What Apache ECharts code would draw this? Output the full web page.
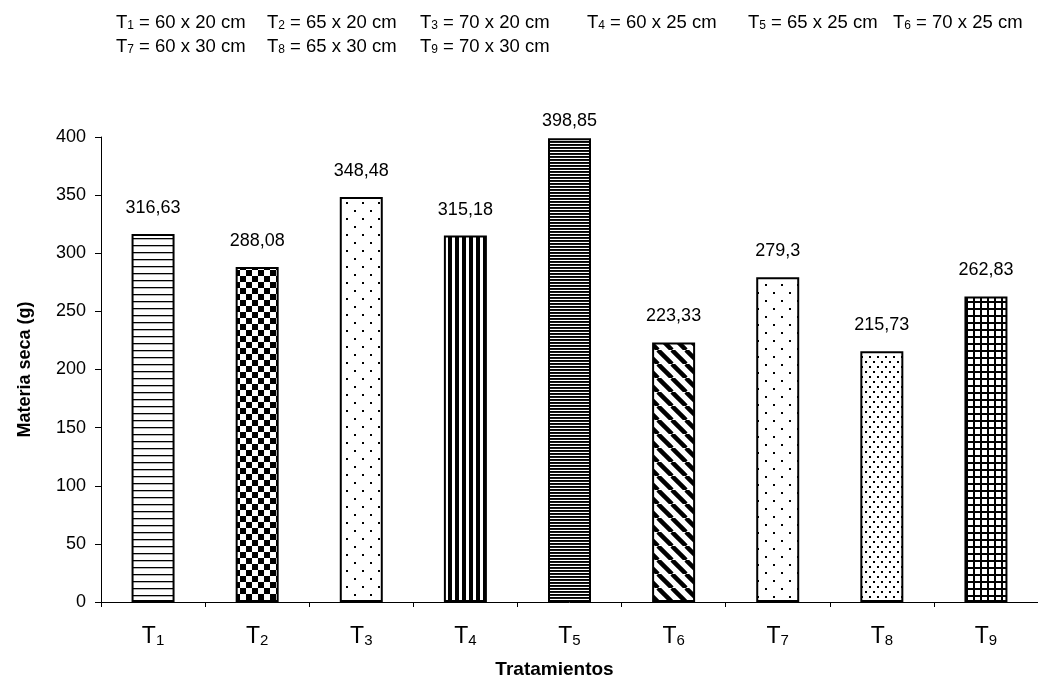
<!DOCTYPE html>
<html>
<head>
<meta charset="utf-8">
<script src="https://cdn.jsdelivr.net/npm/echarts@6/dist/echarts.min.js"></script>
<style>
  html, body { margin: 0; padding: 0; background: #fff; }
  #chart { width: 1038px; height: 681px; }
</style>
</head>
<body>
<div id="chart"></div>
<script>
// datos
const categories = ['1', '2', '3', '4', '5', '6', '7', '8', '9']
const values = [316.63, 288.08, 348.48, 315.18, 398.85, 223.33, 279.3, 215.73, 262.83]
const spacings = [
  '60 x 20 cm', '65 x 20 cm', '70 x 20 cm',
  '60 x 25 cm', '65 x 25 cm', '70 x 25 cm',
  '60 x 30 cm', '65 x 30 cm', '70 x 30 cm'
]
const yTicks = { min: 0, max: 400, interval: 50 }

const FONT = '"Liberation Sans", Arial, sans-serif'

// tramas en blanco y negro (una por tratamiento)
function tile(w, h, draw) {
  const c = document.createElement('canvas')
  c.width = w
  c.height = h
  const ctx = c.getContext('2d')
  ctx.fillStyle = '#fff'
  ctx.fillRect(0, 0, w, h)
  ctx.fillStyle = '#000'
  ctx.strokeStyle = '#000'
  draw(ctx, w, h)
  return { image: c, repeat: 'repeat' }
}

const patterns = [
  // T1 lineas horizontales
  tile(8, 7, (ctx, w) => ctx.fillRect(0, 0, w, 1.3)),
  // T2 tablero
  tile(12, 12, (ctx) => { ctx.fillRect(0, 0, 6, 6); ctx.fillRect(6, 6, 6, 6) }),
  // T3 puntos ralos
  tile(16, 16, (ctx) => { ctx.fillRect(2, 2, 2, 2); ctx.fillRect(10, 10, 2, 2) }),
  // T4 lineas verticales gruesas
  tile(7, 8, (ctx, w, h) => ctx.fillRect(0, 0, 4, h)),
  // T5 lineas horizontales densas
  tile(8, 3, (ctx, w) => ctx.fillRect(0, 0, w, 1.9)),
  // T6 diagonales
  tile(14, 14, (ctx, w, h) => {
    ctx.lineWidth = 4.5
    for (let k = -1; k <= 1; k++) {
      ctx.beginPath()
      ctx.moveTo(k * w, 0)
      ctx.lineTo(k * w + w, h)
      ctx.stroke()
    }
  }),
  // T7 puntos ralos
  tile(16, 16, (ctx) => { ctx.fillRect(5, 4, 2, 2); ctx.fillRect(13, 12, 2, 2) }),
  // T8 puntos densos
  tile(8, 10, (ctx) => { ctx.fillRect(1, 1, 2, 2); ctx.fillRect(5, 6, 2, 2) }),
  // T9 cuadricula
  tile(7, 7, (ctx, w, h) => { ctx.fillRect(0, 0, w, 2); ctx.fillRect(0, 0, 2, h) })
]

const barData = values.map((v, i) => ({
  value: v,
  itemStyle: { color: patterns[i] },
  // la etiqueta de T5 queda mas pegada a la barra
  label: i === 4 ? { distance: 8 } : undefined
}))

// encabezado con la descripcion de los tratamientos
const headerX = [116, 267, 420, 587, 748, 893]
const headerY = [22, 46]
const header = spacings.map((s, i) => ({
  type: 'text',
  x: headerX[i % 6],
  y: headerY[Math.floor(i / 6)],
  style: {
    text: '{t|T}{s|' + categories[i] + '}{t| = ' + s + '}',
    verticalAlign: 'middle',
    rich: {
      t: { fontSize: 18.5, lineHeight: 20, verticalAlign: 'bottom', fontFamily: FONT, fill: '#000' },
      s: { fontSize: 12, lineHeight: 12, verticalAlign: 'bottom', fontFamily: FONT, fill: '#000' }
    }
  }
}))

const chart = echarts.init(document.getElementById('chart'))
const option = {
  backgroundColor: '#fff',
  animation: false,
  textStyle: { fontFamily: FONT, color: '#000' },
  grid: { left: 101, right: 0, top: 137, bottom: 79, outerBoundsMode: 'none' },
  graphic: header,
  xAxis: {
    type: 'category',
    data: categories,
    name: 'Tratamientos',
    nameLocation: 'middle',
    nameGap: 58,
    nameTextStyle: { fontSize: 19, fontWeight: 'bold', color: '#000', fontFamily: FONT, padding: [0, 30, 0, 0] },
    axisLine: { lineStyle: { color: '#000', width: 1 } },
    axisTick: { show: true, length: 5, lineStyle: { color: '#000' } },
    axisLabel: {
      margin: 24,
      formatter: (v) => '{t|T}{s|' + v + '}',
      rich: {
        t: { fontSize: 23, lineHeight: 22, verticalAlign: 'bottom', color: '#000', fontFamily: FONT },
        s: { fontSize: 15, lineHeight: 8, verticalAlign: 'bottom', color: '#000', fontFamily: FONT }
      }
    }
  },
  yAxis: {
    type: 'value',
    min: yTicks.min,
    max: yTicks.max,
    interval: yTicks.interval,
    name: 'Materia seca (g)',
    nameLocation: 'middle',
    nameGap: 67,
    nameRotate: 90,
    nameTextStyle: { fontSize: 18, fontWeight: 'bold', color: '#000', fontFamily: FONT },
    axisLine: { show: true, lineStyle: { color: '#000', width: 1 } },
    axisTick: { show: true, length: 6, lineStyle: { color: '#000' } },
    axisLabel: { fontSize: 18, color: '#000', margin: 15, fontFamily: FONT },
    splitLine: { show: false }
  },
  series: [
    {
      type: 'bar',
      barWidth: 43,
      data: barData,
      itemStyle: { borderColor: '#000', borderWidth: 2 },
      label: {
        show: true,
        position: 'top',
        distance: 17,
        fontSize: 18,
        color: '#000',
        fontFamily: FONT,
        formatter: (p) => String(p.value).replace('.', ',')
      }
    }
  ]
}
chart.setOption(option)
</script>
</body>
</html>
